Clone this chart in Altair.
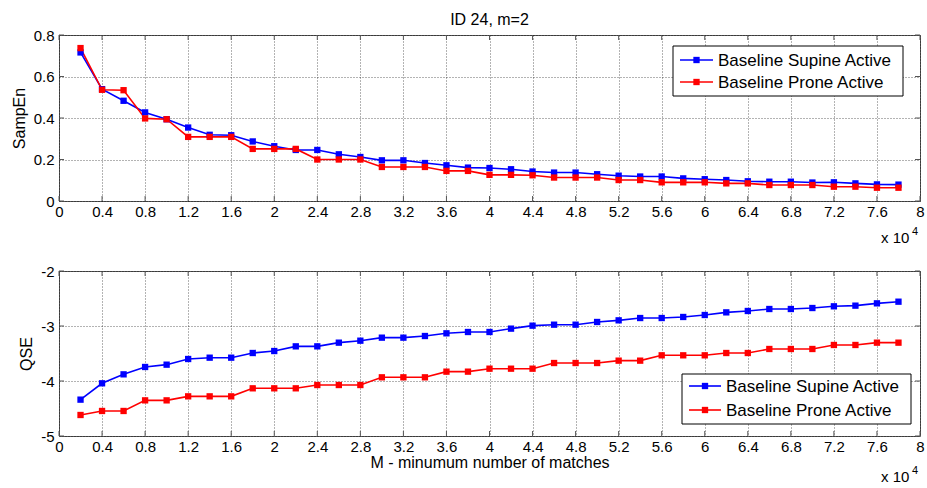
import altair as alt
import pandas as pd

M = [0.2, 0.4, 0.6, 0.8, 1.0, 1.2, 1.4, 1.6, 1.8, 2.0, 2.2, 2.4, 2.6, 2.8, 3.0,
     3.2, 3.4, 3.6, 3.8, 4.0, 4.2, 4.4, 4.6, 4.8, 5.0, 5.2, 5.4, 5.6, 5.8, 6.0,
     6.2, 6.4, 6.6, 6.8, 7.0, 7.2, 7.4, 7.6, 7.8]

sampen_supine = [0.716, 0.539, 0.483, 0.427, 0.394, 0.354, 0.319, 0.317, 0.287, 0.264,
                 0.246, 0.246, 0.225, 0.212, 0.196, 0.196, 0.183, 0.172, 0.161, 0.159,
                 0.153, 0.142, 0.137, 0.137, 0.129, 0.122, 0.118, 0.118, 0.109, 0.105,
                 0.101, 0.095, 0.093, 0.093, 0.089, 0.090, 0.085, 0.080, 0.079]
sampen_prone = [0.737, 0.536, 0.534, 0.398, 0.394, 0.309, 0.309, 0.309, 0.251, 0.251,
                0.251, 0.200, 0.200, 0.200, 0.164, 0.164, 0.164, 0.145, 0.145, 0.126,
                0.126, 0.124, 0.113, 0.113, 0.113, 0.101, 0.101, 0.090, 0.090, 0.090,
                0.085, 0.085, 0.077, 0.077, 0.077, 0.069, 0.069, 0.064, 0.064]
qse_supine = [-4.339, -4.042, -3.879, -3.745, -3.703, -3.600, -3.576, -3.576, -3.491, -3.455,
              -3.370, -3.370, -3.303, -3.267, -3.212, -3.212, -3.182, -3.133, -3.109, -3.109,
              -3.048, -2.994, -2.976, -2.976, -2.927, -2.897, -2.855, -2.855, -2.836, -2.800,
              -2.752, -2.727, -2.691, -2.691, -2.673, -2.642, -2.630, -2.588, -2.558]
qse_prone = [-4.618, -4.545, -4.545, -4.352, -4.352, -4.279, -4.279, -4.279, -4.133, -4.133,
             -4.133, -4.073, -4.073, -4.073, -3.933, -3.933, -3.933, -3.830, -3.830, -3.776,
             -3.776, -3.776, -3.673, -3.673, -3.673, -3.630, -3.630, -3.533, -3.533, -3.533,
             -3.491, -3.491, -3.418, -3.418, -3.418, -3.345, -3.345, -3.303, -3.303]

SERIES = ["Baseline Supine Active", "Baseline Prone Active"]
COLORS = ["#0000ff", "#ff0000"]
X_TICKS = [0, 0.4, 0.8, 1.2, 1.6, 2, 2.4, 2.8, 3.2, 3.6, 4, 4.4, 4.8, 5.2, 5.6, 6,
           6.4, 6.8, 7.2, 7.6, 8]
Y1_TICKS = [0, 0.2, 0.4, 0.6, 0.8]
Y2_TICKS = [-5, -4, -3, -2]
TITLE = "ID 24, m=2"
XLABEL = "M - minumum number of matches"
EXP_BASE = "x 10"
EXP_POW = "4"

W = 861
FONT = "Liberation Sans"
FRAME = "#555555"
MSIZE = 40


def panel(va, vb, ylabel, ydomain, yticks, height, xtitle, leg, expo):
    df = pd.DataFrame({
        "M": M + M,
        "v": va + vb,
        "s": [SERIES[0]] * len(M) + [SERIES[1]] * len(M),
    })
    xscale = alt.Scale(domain=[0, 8], nice=False, zero=False)
    yscale = alt.Scale(domain=ydomain, nice=False, zero=False)
    xaxis_kw = dict(values=X_TICKS, labelExpr="toString(datum.value)", labelFlush=False,
                    labelOverlap=False, title=xtitle)
    if xtitle:
        xaxis_kw.update(titleY=31, titleBaseline="alphabetic")
    x = alt.X("M:Q", scale=xscale, axis=alt.Axis(**xaxis_kw))
    y = alt.Y("v:Q", scale=yscale,
              axis=alt.Axis(values=yticks, labelExpr="toString(datum.value)", title=ylabel))
    color = alt.Color("s:N", scale=alt.Scale(domain=SERIES, range=COLORS), legend=None)
    base = alt.Chart(df)
    lines = base.mark_line(strokeWidth=1.6).encode(x=x, y=y, color=color)
    pts = base.mark_point(shape="square", filled=True, size=MSIZE, opacity=1).encode(
        x="M:Q", y="v:Q", color=color)

    xt = alt.Chart(pd.DataFrame({"M": X_TICKS}))
    yt = alt.Chart(pd.DataFrame({"v": yticks}))
    tick_x_b = xt.mark_rule(color=FRAME).encode(
        x="M:Q", y=alt.value(height), y2=alt.value(height - 5))
    tick_x_t = xt.mark_rule(color=FRAME).encode(
        x="M:Q", y=alt.value(0), y2=alt.value(5))
    tick_y_l = yt.mark_rule(color=FRAME).encode(
        y="v:Q", x=alt.value(0), x2=alt.value(5))
    tick_y_r = yt.mark_rule(color=FRAME).encode(
        y="v:Q", x=alt.value(W - 5), x2=alt.value(W))

    bx0, by0, bx1, by1, lx0, lx1, tx, rows = leg
    one = pd.DataFrame({"a": [0]})
    layers = [lines, tick_x_b, tick_x_t, tick_y_l, tick_y_r, pts]
    layers.append(alt.Chart(one).mark_rect(fill="white", stroke="black", strokeWidth=1).encode(
        x=alt.value(bx0), x2=alt.value(bx1), y=alt.value(by0), y2=alt.value(by1)))
    for i, s in enumerate(SERIES):
        sd = pd.DataFrame({"s": [s]})
        ry = rows[i]
        layers.append(alt.Chart(sd).mark_rule(color=COLORS[i], strokeWidth=1.6).encode(
            x=alt.value(lx0), x2=alt.value(lx1), y=alt.value(ry)))
        layers.append(alt.Chart(sd).mark_point(shape="square", filled=True, size=MSIZE,
                                               opacity=1, color=COLORS[i]).encode(
            x=alt.value((lx0 + lx1) / 2), y=alt.value(ry)))
        layers.append(alt.Chart(sd).mark_text(align="left", baseline="middle", font=FONT,
                                              fontSize=17, color="black").encode(
            text="s:N", x=alt.value(tx), y=alt.value(ry + 1)))
    ex, ey, px, py = expo
    layers.append(alt.Chart(pd.DataFrame({"e": [EXP_BASE]})).mark_text(
        align="left", baseline="alphabetic", font=FONT, fontSize=15, color="black").encode(
        text="e:N", x=alt.value(ex), y=alt.value(ey)))
    layers.append(alt.Chart(pd.DataFrame({"e": [EXP_POW]})).mark_text(
        align="left", baseline="alphabetic", font=FONT, fontSize=11, color="black").encode(
        text="e:N", x=alt.value(px), y=alt.value(py)))
    return alt.layer(*layers).properties(width=W, height=height)


top = panel(sampen_supine, sampen_prone, "SampEn", [0, 0.8], Y1_TICKS, 166, None,
            (614, 11, 844, 61, 621, 654, 659, [25, 47]),
            (822, 208, 853, 200)).properties(
    title=alt.TitleParams(TITLE, fontSize=16, fontWeight="normal", font=FONT, color="black",
                          offset=0, anchor="middle"))
bottom = panel(qse_supine, qse_prone, "QSE", [-5, -2], Y2_TICKS, 165, XLABEL,
               (623, 103, 852, 153, 630, 662, 667, [115, 139]),
               (822, 211, 853, 203))

chart = alt.vconcat(top, bottom, spacing=70, bounds="flush").properties(
    padding={"left": 10, "top": 11, "right": 0, "bottom": 1}
).configure_view(stroke=FRAME, strokeWidth=1).configure_axis(
    domain=False, ticks=False, tickSize=0, grid=True, gridDash=[1, 2], gridColor="#000000",
    gridOpacity=0.6, labelFont=FONT, labelFontSize=15, labelColor="black",
    titleFont=FONT, titleFontSize=16, titleFontWeight="normal", titleColor="black"
).configure_axisX(labelPadding=3).configure_axisY(labelPadding=5, titlePadding=6)

chart.save("out.html", embed_options={"renderer": "svg", "actions": False})
